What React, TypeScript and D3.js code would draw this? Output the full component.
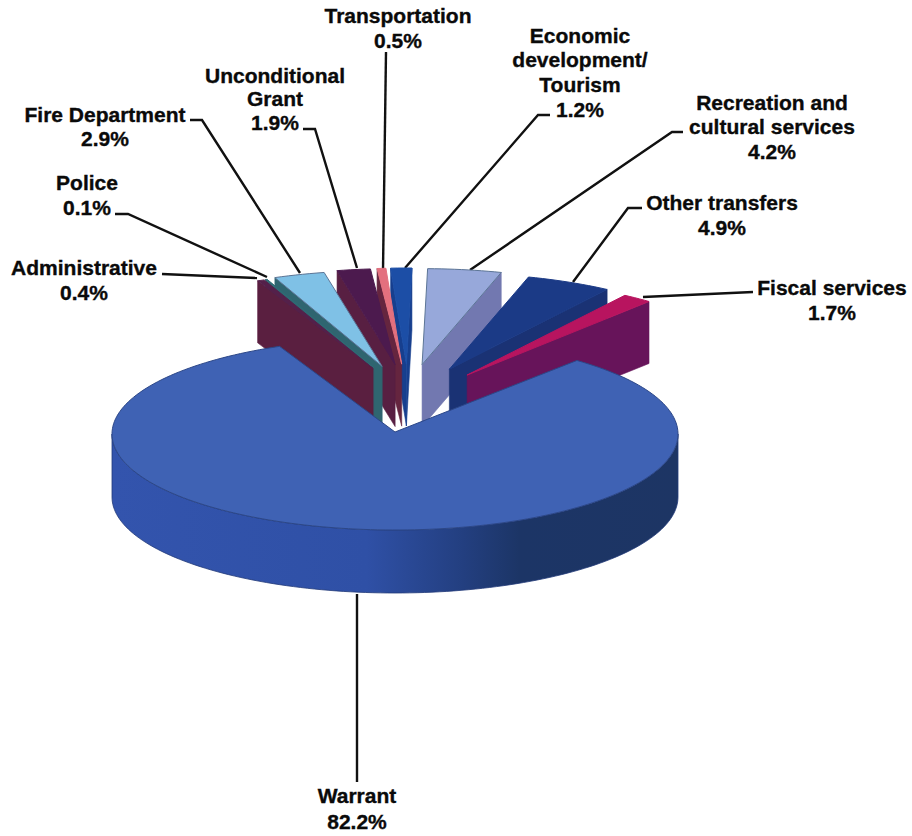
import React from "react";
import * as d3 from "d3";

// ---- data ----
const categories = ["Warrant", "Administrative", "Police", "Fire Department", "Unconditional Grant", "Transportation", "Economic development/ Tourism", "Recreation and cultural services", "Other transfers", "Fiscal services"];
const values = [82.2, 0.4, 0.1, 2.9, 1.9, 0.5, 1.2, 4.2, 4.9, 1.7];
const topColors = ["#3f62b4", "#54204a", "#2e6a74", "#7fc1e6", "#4c1a4e", "#e3707e", "#1c4ea6", "#97a8da", "#1b3a86", "#b8145f"];
const wallColors = ["#2f4f9f", "#5a1f40", "#2f6570", "#2f6570", "#581f42", "#65253f", "#173f8e", "#7278b0", "#1a3274", "#67145a"];
const labelLines = [["Warrant", "82.2%"], ["Administrative", "0.4%"], ["Police", "0.1%"], ["Fire Department", "2.9%"], ["Unconditional", "Grant", "1.9%"], ["Transportation", "0.5%"], ["Economic", "development/", "Tourism", "1.2%"], ["Recreation and", "cultural services", "4.2%"], ["Other transfers", "4.9%"], ["Fiscal services", "1.7%"]];

// ---- layout ----
const labelAnchors: [number, number[]][] = [
  [357, [803, 829]], [84, [275, 300]], [87, [190, 215]], [105, [122, 146]], [275, [83, 106, 130]],
  [398, [23, 48]], [580, [43, 67, 92, 117]], [772, [110, 134, 159]], [722, [210, 235]], [832, [295, 320]],
];
const leaders: [number, number][][] = [
  [[357, 594], [357, 782]],
  [[162, 274], [257, 278]],
  [[115, 214], [128, 214], [267, 277]],
  [[190, 120], [202, 120], [300, 273]],
  [[303, 129], [315, 129], [357, 268]],
  [[386, 52], [383, 270]],
  [[550, 115], [538, 115], [405, 268]],
  [[683, 132], [672, 132], [470, 270]],
  [[642, 208], [628, 208], [573, 282]],
  [[753, 292], [643, 297]],
];
const cx = 395, cy = 434, rx = 283, ry = 96, depth = 63, wallDepth = 62;

const rad = (deg: number) => (deg * Math.PI) / 180;
const project = (a: number): [number, number] => [cx + rx * Math.sin(a), cy - ry * Math.cos(a)];
const arcPts = (a0: number, a1: number) => {
  const n = Math.max(2, Math.ceil(Math.abs(a1 - a0) / rad(1.5)));
  return d3.range(n + 1).map((i) => project(a0 + ((a1 - a0) * i) / n));
};
const line = d3.line().curve(d3.curveLinear);
const poly = (pts: [number, number][]) => line(pts) + "Z";

const warrantEnd = rad(40);
const arcs = d3.pie<number>().sort(null).startAngle(warrantEnd).endAngle(warrantEnd + 2 * Math.PI)(values);

export default function App() {
  const main = arcs[0];
  const mainTop = poly([[cx, cy - 2], ...arcPts(main.startAngle, main.endAngle)]);
  const rimTop = arcPts(rad(90), rad(270));
  const rimPath = poly([...rimTop, ...rimTop.slice().reverse().map(([x, y]) => [x, y + depth] as [number, number])]);

  const sliceShapes = arcs.slice(1).map((a, k) => {
    const i = k + 1;
    const a0 = a.startAngle - 2 * Math.PI;
    const a1 = a.endAngle - 2 * Math.PI;
    const mid = (a0 + a1) / 2;
    const dx = mid < 0 ? 13 + 88 * Math.sin(mid) : 12 + 100 * Math.sin(mid);
    const dy = -15 - 55 * Math.cos(mid);
    const off = ([x, y]: [number, number], z = 0): [number, number] => [x + dx, y + dy + z];
    const apex = off([cx, cy]);
    const apexLow = off([cx, cy], wallDepth);
    const p0 = off(project(a0));
    const p1 = off(project(a1));
    const walls: string[] = [];
    if (a0 < 0) walls.push(poly([p0, apex, apexLow, [p0[0], p0[1] + wallDepth]]));
    if (a1 > 0) walls.push(poly([p1, apex, apexLow, [p1[0], p1[1] + wallDepth]]));
    const top = poly([apex, ...arcPts(a0, a1).map((p) => off(p))]);
    return { i, walls, top, mid };
  });
  // outermost slices go on top of the inner ones, on either side of the gap
  const order = [
    ...sliceShapes.filter((s) => s.mid < 0).sort((a, b) => b.mid - a.mid),
    ...sliceShapes.filter((s) => s.mid >= 0).sort((a, b) => a.mid - b.mid),
  ];

  return (
    <svg width={912} height={836} style={{ position: "absolute", left: 0, top: 0, background: "#fff" }}>
      <defs>
        <linearGradient id="rim" x1="0" x2="1" y1="0" y2="0">
          <stop offset="0" stopColor="#3354ad" />
          <stop offset="0.45" stopColor="#2f50a6" />
          <stop offset="0.62" stopColor="#233f80" />
          <stop offset="0.72" stopColor="#1c3566" />
          <stop offset="1" stopColor="#1d3564" />
        </linearGradient>
      </defs>

      {leaders.map((pts, i) => (
        <path key={i} d={line(pts) ?? ""} fill="none" stroke="#111" strokeWidth={2.4} />
      ))}

      {order.map((s) => (
        <g key={s.i}>
          {s.walls.map((d, j) => (
            <path key={j} d={d} fill={wallColors[s.i]} stroke={wallColors[s.i]} strokeWidth={0.6} />
          ))}
          <path d={s.top} fill={topColors[s.i]} stroke={s.i === 3 || s.i === 7 ? "#5c7596" : topColors[s.i]} strokeWidth={1} />
        </g>
      ))}

      <path d={rimPath} fill="url(#rim)" stroke="#223a78" strokeWidth={0.8} />
      <path d={mainTop} fill={topColors[0]} stroke="#2c4788" strokeWidth={1} />

      <g fontFamily="'Liberation Sans', Arial, sans-serif" fontWeight={700} fontSize={21} fill="#0a0a0a" stroke="#0a0a0a" strokeWidth={0.35} textAnchor="middle">
        {labelLines.map((lines, i) =>
          lines.map((t, j) => (
            <text key={j} x={labelAnchors[i][0]} y={labelAnchors[i][1][j]}>{t}</text>
          ))
        )}
      </g>
      <title>{categories.join(", ")}</title>
    </svg>
  );
}
